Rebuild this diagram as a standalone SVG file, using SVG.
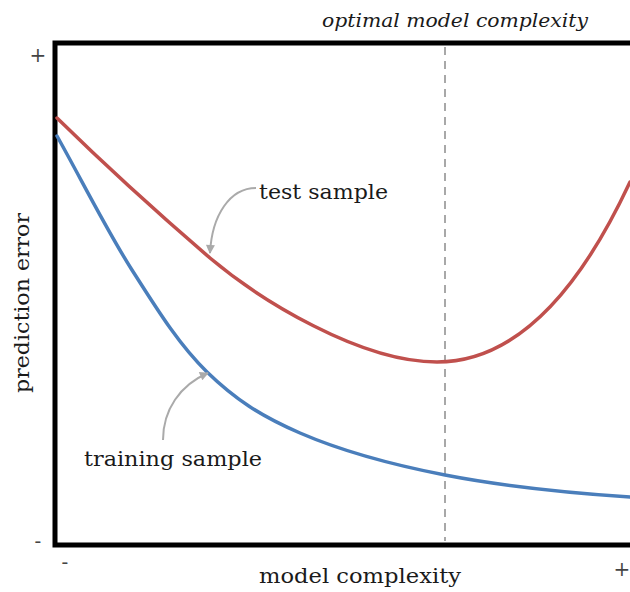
<svg xmlns="http://www.w3.org/2000/svg" width="630" height="592" viewBox="0 0 630 592">
  <style>
    .lbl { font-family: "DejaVu Serif", "Liberation Serif", serif; fill: #1a1a1a; }
    .tick { font-family: "DejaVu Serif", serif; fill: #444; font-size: 20px; }
    .curve { fill: none; stroke-width: 3.5; stroke-linecap: round; stroke-linejoin: round; }
    .pointer { fill: none; stroke: #aaaaaa; stroke-width: 2; }
  </style>
  <defs>
    <marker id="head" viewBox="0 0 10 10" refX="9" refY="5" markerWidth="11" markerHeight="9" markerUnits="userSpaceOnUse" orient="auto">
      <path d="M0,0 L10,5 L0,10 Z" fill="#aaaaaa"/>
    </marker>
  </defs>
  <rect width="630" height="592" fill="#ffffff"/>

  <!-- axes frame -->
  <g id="frame">
    <path d="M630,43 H55 V545 H630" fill="none" stroke="#000" stroke-width="5"/>
    <text class="tick" x="38" y="62" text-anchor="middle">+</text>
    <text class="tick" x="38" y="548" text-anchor="middle">-</text>
    <text class="tick" x="65" y="569" text-anchor="middle">-</text>
    <text class="tick" x="622" y="576" text-anchor="middle">+</text>
    <text class="lbl" x="360" y="583" font-size="20" text-anchor="middle" textLength="202" lengthAdjust="spacingAndGlyphs">model complexity</text>
    <text class="lbl" x="0" y="0" font-size="20" text-anchor="middle" textLength="180" lengthAdjust="spacingAndGlyphs" transform="translate(29,303) rotate(-90)">prediction error</text>
  </g>

  <!-- optimum marker -->
  <g id="optimum">
    <line x1="445" y1="47" x2="445" y2="541" stroke="#a8a8a8" stroke-width="2" stroke-dasharray="8,6"/>
    <text class="lbl" x="322" y="27" font-size="18" font-style="italic" textLength="266" lengthAdjust="spacingAndGlyphs">optimal model complexity</text>
  </g>

  <g id="curves">
    <path id="test-curve" class="curve" stroke="#c0504d" d="M57,118 C110,170 160,215 210,258 C260,300 360,362 437,362 C510,362 575,300 630,182"/>
    <path id="train-curve" class="curve" stroke="#4a7ebb" d="M57,136 C82,180.7 107,230.7 132,270 C157,309.3 179,344.8 207,372 C235,399.2 260.3,415.8 300,433 C339.7,450.2 390,464.3 445,475 C500,485.7 570,493 630,497"/>
  </g>

  <g id="labels">
    <text class="lbl" x="259" y="199" font-size="20" textLength="129" lengthAdjust="spacingAndGlyphs">test sample</text>
    <text class="lbl" x="84" y="466" font-size="20" textLength="178" lengthAdjust="spacingAndGlyphs">training sample</text>
  </g>

  <g id="connectors">
    <path class="pointer" d="M256,188 C230,188 212,215 210,253" marker-end="url(#head)"/>
    <path class="pointer" d="M163,440 C163,410 180,385 208,373" marker-end="url(#head)"/>
  </g>
</svg>
